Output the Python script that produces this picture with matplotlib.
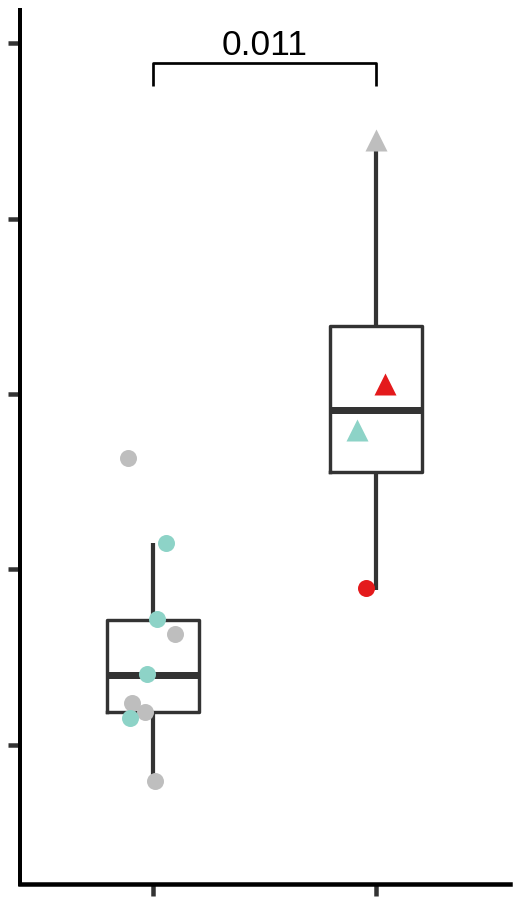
import matplotlib
matplotlib.use("Agg")
import matplotlib.pyplot as plt

plt.rcParams['font.family'] = ['Liberation Sans', 'DejaVu Sans']

# Box statistics per group
groups = [1, 2]
q1 = [1.189, 2.554]
med = [1.40, 2.910]
q3 = [1.709, 3.390]
whislo = [0.806, 1.880]
whishi = [2.149, 4.419]

# Points (group, x jitter, value, colour, marker)
pt_group = [1, 1, 1, 1, 1, 1, 1, 1, 1, 2, 2, 2, 2]
pt_jitter = [-0.113, 0.060, 0.019, 0.097, -0.026, -0.096, -0.035, -0.105, 0.008,
             0.000, 0.039, -0.086, -0.045]
pt_value = [2.634, 2.149, 1.72, 1.629, 1.406, 1.24, 1.189, 1.154, 0.794,
            4.446, 3.057, 2.794, 1.893]
pt_color = ['#BEBEBE', '#8DD3C7', '#8DD3C7', '#BEBEBE', '#8DD3C7', '#BEBEBE', '#BEBEBE',
            '#8DD3C7', '#BEBEBE', '#BEBEBE', '#E41A1C', '#8DD3C7', '#E41A1C']
pt_marker = ['o'] * 9 + ['^', '^', '^', 'o']

yticks = [1, 2, 3, 4, 5]
pvalue_label = "0.011"
bracket_y = 4.885
bracket_drop = 4.755
label_y = 4.939

fig = plt.figure(figsize=(5.21, 9.03), dpi=100)
ax = fig.add_axes([20/521, 18/903, 490/521, 874/903])

stats = []
for i in range(len(groups)):
    stats.append(dict(med=med[i], q1=q1[i], q3=q3[i], whislo=whislo[i], whishi=whishi[i], fliers=[]))

lw_box = 3.4 * 0.72
ax.bxp(stats, positions=groups, widths=0.41, showfliers=False, showcaps=False,
       boxprops=dict(color='#333333', linewidth=lw_box),
       whiskerprops=dict(color='#333333', linewidth=4.2 * 0.72, solid_capstyle='butt'),
       medianprops=dict(color='#333333', linewidth=7 * 0.72, solid_capstyle='butt'),
       zorder=2)

for g, j, v, c, m in zip(pt_group, pt_jitter, pt_value, pt_color, pt_marker):
    if m == 'o':
        ax.plot(g + j, v, marker='o', ms=17 * 0.72, color=c, mec='none', ls='none', zorder=3)
    else:
        ax.plot(g + j, v, marker='^', ms=22 * 0.72, color=c, mec='none', ls='none', zorder=3)

# significance bracket
ax.plot([groups[0], groups[0], groups[1], groups[1]],
        [bracket_drop, bracket_y, bracket_y, bracket_drop],
        color='black', lw=2.7 * 0.72, solid_capstyle='butt', clip_on=False)
ax.text((groups[0] + groups[1]) / 2, label_y, pvalue_label,
        ha='center', va='baseline', fontsize=25.5, color='black')

ax.set_xlim(0.4036, 2.601)
ax.set_ylim(0.206, 5.19)
ax.set_yticks(yticks)
ax.set_xticks(groups)
ax.set_yticklabels([])
ax.set_xticklabels([])
ax.tick_params(axis='both', direction='out', length=12 * 0.72, width=4.5 * 0.72, color='#333333')
for s in ['top', 'right']:
    ax.spines[s].set_visible(False)
ax.spines['left'].set_linewidth(4 * 0.72)
ax.spines['bottom'].set_linewidth(4.5 * 0.72)
ax.spines['left'].set_color('black')
ax.spines['bottom'].set_color('black')

fig.savefig('out.png', dpi=100)
